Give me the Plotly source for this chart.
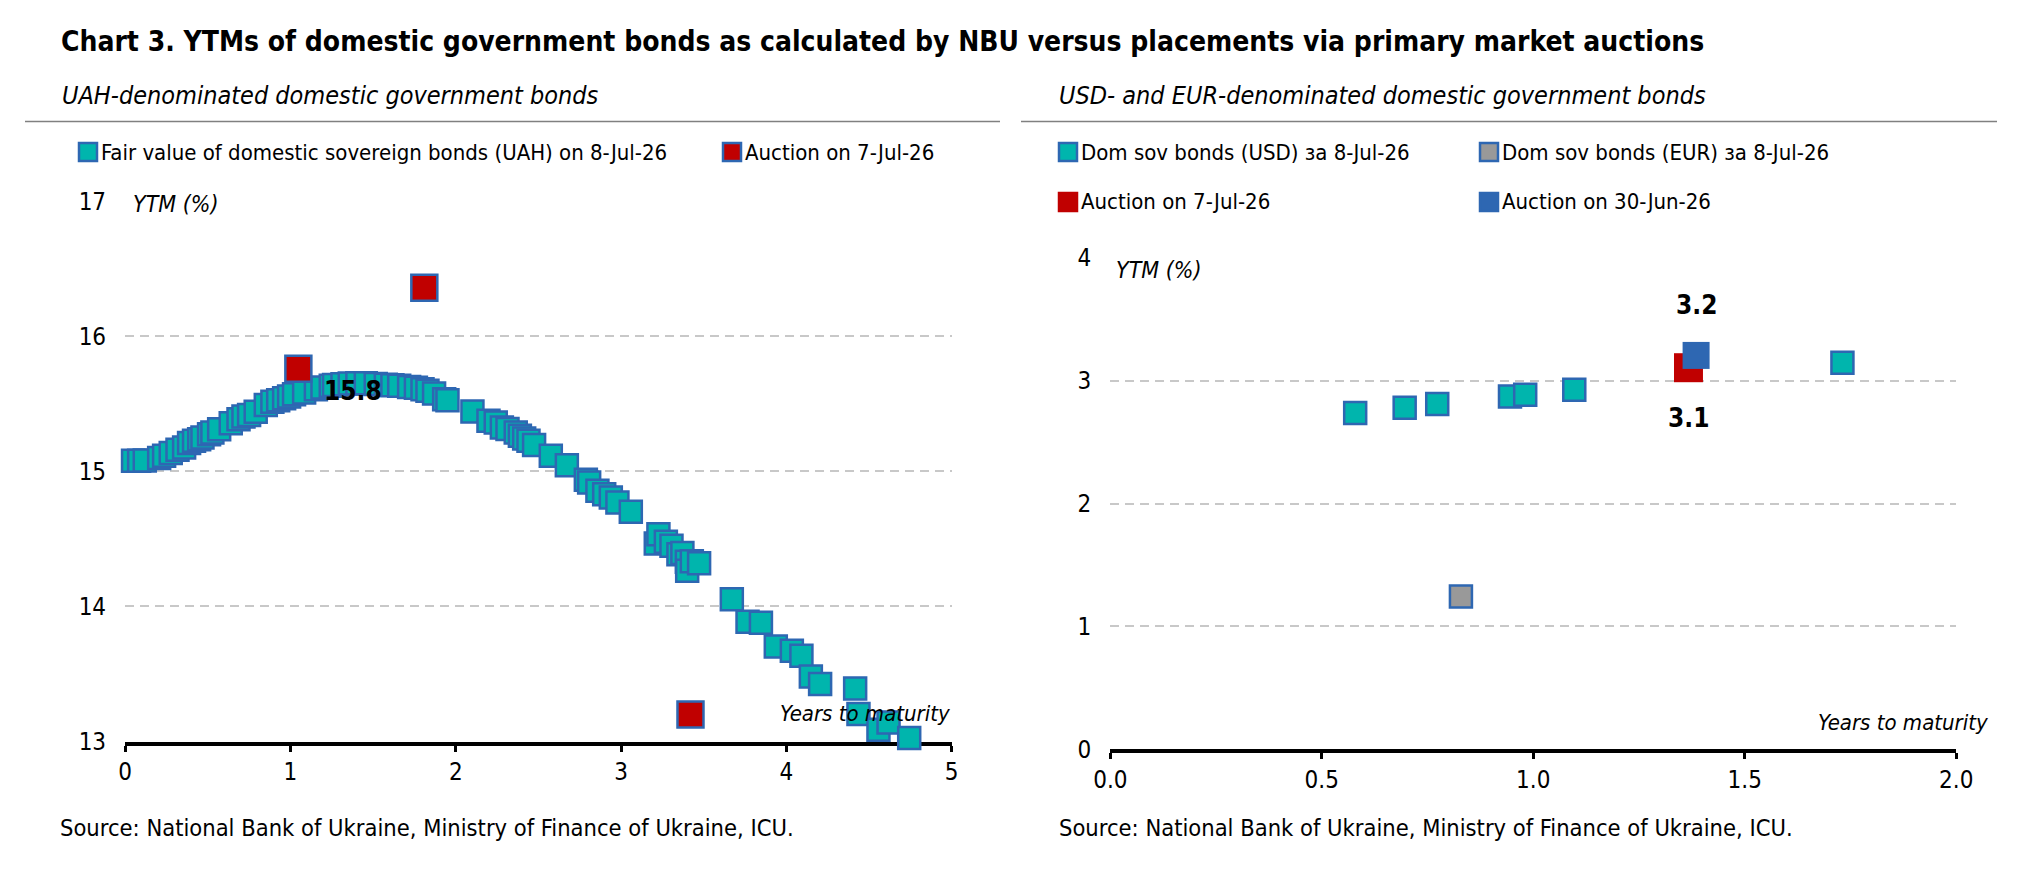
import plotly.graph_objects as go

W, H = 2022, 870

# ---------------- text ----------------
TITLE = "Chart 3. YTMs of domestic government bonds as calculated by NBU versus placements via primary market auctions"
SUB_LEFT = "UAH-denominated domestic government bonds"
SUB_RIGHT = "USD- and EUR-denominated domestic government bonds"
SOURCE = "Source: National Bank of Ukraine, Ministry of Finance of Ukraine, ICU."
Y_LABEL = "YTM (%)"
X_LABEL = "Years to maturity"

# ---------------- data: UAH panel ----------------
uah_fair_name = "Fair value of domestic sovereign bonds (UAH) on 8-Jul-26"
uah_fair_x = [0.048, 0.085, 0.119, 0.206, 0.236, 0.276, 0.317, 0.357, 0.387, 0.417,
              0.448, 0.468, 0.508, 0.528, 0.569, 0.639, 0.686, 0.716, 0.750, 0.790,
              0.851, 0.891, 0.926, 0.962, 0.992, 1.022, 1.083, 1.154, 1.194, 1.244,
              1.264, 1.315, 1.359, 1.405, 1.456, 1.516, 1.577, 1.617, 1.658, 1.718,
              1.759, 1.799, 1.829, 1.869, 1.930, 1.950, 2.101, 2.198, 2.242, 2.279,
              2.313, 2.363, 2.388, 2.414, 2.440, 2.474, 2.575, 2.672, 2.787, 2.807,
              2.857, 2.898, 2.938, 2.978, 3.059, 3.210, 3.226, 3.271, 3.305, 3.347,
              3.371, 3.398, 3.400, 3.428, 3.472, 3.670, 3.765, 3.846, 3.936, 4.033,
              4.091, 4.148, 4.204, 4.416, 4.436, 4.557, 4.618, 4.743]
uah_fair_y = [15.078, 15.078, 15.080, 15.098, 15.115, 15.135, 15.160, 15.177, 15.209, 15.226,
              15.238, 15.251, 15.275, 15.288, 15.312, 15.357, 15.386, 15.406, 15.418, 15.441,
              15.492, 15.515, 15.527, 15.542, 15.554, 15.571, 15.584, 15.608, 15.621, 15.633,
              15.640, 15.645, 15.650, 15.652, 15.652, 15.647, 15.642, 15.637, 15.633, 15.625,
              15.618, 15.608, 15.596, 15.576, 15.534, 15.527, 15.443, 15.374, 15.362, 15.325,
              15.313, 15.288, 15.263, 15.243, 15.226, 15.196, 15.115, 15.046, 14.937, 14.918,
              14.856, 14.831, 14.807, 14.770, 14.700, 14.466, 14.535, 14.478, 14.450, 14.387,
              14.395, 14.330, 14.264, 14.335, 14.320, 14.054, 13.886, 13.880, 13.704, 13.671,
              13.635, 13.482, 13.425, 13.393, 13.203, 13.087, 13.141, 13.025]

uah_auction_name = "Auction on 7-Jul-26"
uah_auction_x = [1.048, 1.810, 3.420]
uah_auction_y = [15.76, 16.36, 13.20]
uah_labelled_point = 0

# ---------------- data: FX panel ----------------
fx_usd_name = "Dom sov bonds (USD) за 8-Jul-26"
fx_usd_x = [0.579, 0.696, 0.773, 0.945, 0.981, 1.097, 1.731]
fx_usd_y = [2.737, 2.780, 2.810, 2.872, 2.886, 2.927, 3.147]

fx_eur_name = "Dom sov bonds (EUR) за 8-Jul-26"
fx_eur_x = [0.829]
fx_eur_y = [1.244]

fx_auc_jul_name = "Auction on 7-Jul-26"
fx_auc_jul_x = [1.367]
fx_auc_jul_y = [3.106]

fx_auc_jun_name = "Auction on 30-Jun-26"
fx_auc_jun_x = [1.385]
fx_auc_jun_y = [3.206]

left_x_ticks = [0, 1, 2, 3, 4, 5]
left_y_ticks = [13, 14, 15, 16, 17]
right_x_ticks = [0.0, 0.5, 1.0, 1.5, 2.0]
right_y_ticks = [0, 1, 2, 3, 4]

# ---------------- style ----------------
FONT = "Liberation Sans Narrow, Arial Narrow, DejaVu Sans Condensed, sans-serif"
TEAL = "#00B5AD"
BLUE = "#2E67B2"
RED = "#C00000"
GREY = "#999999"
GRID = "#C8C8C8"


def px(x):
    return x / W


def py(y):
    return 1 - y / H


fig = go.Figure()

# UAH panel traces
fig.add_trace(go.Scatter(
    x=uah_fair_x, y=uah_fair_y, mode="markers", name=uah_fair_name,
    marker=dict(symbol="square", size=22, color=TEAL, line=dict(color=BLUE, width=2.5)),
    xaxis="x", yaxis="y", cliponaxis=False, showlegend=False))
fig.add_trace(go.Scatter(
    x=uah_auction_x, y=uah_auction_y, mode="markers", name=uah_auction_name,
    marker=dict(symbol="square", size=26, color=RED, line=dict(color=BLUE, width=2.5)),
    xaxis="x", yaxis="y", cliponaxis=False, showlegend=False))

# FX panel traces
fig.add_trace(go.Scatter(
    x=fx_usd_x, y=fx_usd_y, mode="markers", name=fx_usd_name,
    marker=dict(symbol="square", size=22, color=TEAL, line=dict(color=BLUE, width=2.5)),
    xaxis="x2", yaxis="y2", cliponaxis=False, showlegend=False))
fig.add_trace(go.Scatter(
    x=fx_eur_x, y=fx_eur_y, mode="markers", name=fx_eur_name,
    marker=dict(symbol="square", size=22, color=GREY, line=dict(color=BLUE, width=2.5)),
    xaxis="x2", yaxis="y2", cliponaxis=False, showlegend=False))
fig.add_trace(go.Scatter(
    x=fx_auc_jul_x, y=fx_auc_jul_y, mode="markers", name=fx_auc_jul_name,
    marker=dict(symbol="square", size=29, color=RED, line=dict(width=0)),
    xaxis="x2", yaxis="y2", cliponaxis=False, showlegend=False))
fig.add_trace(go.Scatter(
    x=fx_auc_jun_x, y=fx_auc_jun_y, mode="markers", name=fx_auc_jun_name,
    marker=dict(symbol="square", size=27, color=BLUE, line=dict(width=0)),
    xaxis="x2", yaxis="y2", cliponaxis=False, showlegend=False))

tickfont = dict(family=FONT, size=24, color="#000000")

xcommon = dict(showgrid=False, zeroline=False, showline=True, linecolor="#000000", linewidth=4,
               ticks="outside", ticklen=6, tickwidth=3, tickcolor="#000000",
               tickfont=tickfont, layer="below traces", fixedrange=True,
               ticklabelstandoff=0, automargin=False)
ycommon = dict(showgrid=True, gridcolor=GRID, gridwidth=2, griddash="9px,6px", zeroline=False,
               showline=False, ticks="", tickfont=tickfont, layer="below traces",
               fixedrange=True, ticklabelstandoff=18, automargin=False)

fig.update_layout(
    width=W, height=H, margin=dict(l=0, r=0, t=0, b=0, autoexpand=False),
    paper_bgcolor="#FFFFFF", plot_bgcolor="#FFFFFF",
    font=dict(family=FONT, color="#000000"),
    xaxis=dict(domain=[px(125.1), px(951.7)], range=[0, 5], tickvals=left_x_ticks,
               anchor="y", **xcommon),
    yaxis=dict(domain=[py(741.5), py(201.2)], range=[13, 17], tickvals=left_y_ticks,
               anchor="x", **ycommon),
    xaxis2=dict(domain=[px(1110.3), px(1956.2)], range=[0, 2], tickvals=right_x_ticks,
                tickformat=".1f", anchor="y2", **xcommon),
    yaxis2=dict(domain=[py(749.2), py(257.9)], range=[0, 4], tickvals=right_y_ticks,
                anchor="x2", **ycommon),
)

ann = []
shapes = []

# Title and subtitles
ann.append(dict(text=TITLE, x=px(59), y=py(41), xref="paper", yref="paper",
                xanchor="left", yanchor="middle", showarrow=False,
                font=dict(family=FONT, size=28, color="#000000", weight="bold")))
ann.append(dict(text="<i>" + SUB_LEFT + "</i>", x=px(60), y=py(95), xref="paper", yref="paper",
                xanchor="left", yanchor="middle", showarrow=False,
                font=dict(family=FONT, size=25, color="#000000")))
ann.append(dict(text="<i>" + SUB_RIGHT + "</i>", x=px(1057), y=py(95), xref="paper", yref="paper",
                xanchor="left", yanchor="middle", showarrow=False,
                font=dict(family=FONT, size=25, color="#000000")))
for x0, x1 in [(25, 1000), (1021, 1997)]:
    shapes.append(dict(type="line", xref="paper", yref="paper", x0=px(x0), x1=px(x1),
                       y0=py(121.5), y1=py(121.5), line=dict(color="#808080", width=1.5)))

# Sources
for x0 in [58, 1057]:
    ann.append(dict(text=SOURCE, x=px(x0), y=py(828), xref="paper", yref="paper",
                    xanchor="left", yanchor="middle", showarrow=False,
                    font=dict(family=FONT, size=23.5, color="#000000")))

# Manual legends
legend_items = [
    (uah_fair_name, TEAL, BLUE, 79, 152),
    (uah_auction_name, RED, BLUE, 723, 152),
    (fx_usd_name, TEAL, BLUE, 1059, 152),
    (fx_eur_name, GREY, BLUE, 1480, 152),
    (fx_auc_jul_name, RED, RED, 1059, 202),
    (fx_auc_jun_name, BLUE, BLUE, 1480, 202),
]
for name, fill, border, lx, ly in legend_items:
    s = 18
    shapes.append(dict(type="rect", xref="paper", yref="paper",
                       x0=px(lx), x1=px(lx + s), y0=py(ly - s / 2), y1=py(ly + s / 2),
                       fillcolor=fill, line=dict(color=border, width=2.5)))
    ann.append(dict(text=name, x=px(lx + s + 2), y=py(ly), xref="paper", yref="paper",
                    xanchor="left", yanchor="middle", showarrow=False,
                    font=dict(family=FONT, size=22, color="#000000")))

# Axis titles
ann.append(dict(text="<i>" + Y_LABEL + "</i>", x=0, y=17, xref="x", yref="y",
                xanchor="left", yanchor="middle", xshift=2, yshift=-3, showarrow=False,
                bgcolor="#FFFFFF", borderpad=5,
                font=dict(family=FONT, size=23, color="#000000")))
ann.append(dict(text="<i>" + Y_LABEL + "</i>", x=0, y=4, xref="x2", yref="y2",
                xanchor="left", yanchor="middle", xshift=0, yshift=-12, showarrow=False,
                bgcolor="#FFFFFF", borderpad=5,
                font=dict(family=FONT, size=23, color="#000000")))
ann.append(dict(text="<i>" + X_LABEL + "</i>", x=5, y=13, xref="x", yref="y",
                xanchor="right", yanchor="middle", xshift=0, yshift=28, showarrow=False,
                font=dict(family=FONT, size=22, color="#000000")))
ann.append(dict(text="<i>" + X_LABEL + "</i>", x=2, y=0, xref="x2", yref="y2",
                xanchor="right", yanchor="middle", xshift=34, yshift=27, showarrow=False,
                font=dict(family=FONT, size=22, color="#000000")))

# Data labels
lbl_font = dict(family=FONT, size=26, color="#000000", weight="bold")
i = uah_labelled_point
ann.append(dict(text=f"{uah_auction_y[i]:.1f}", x=uah_auction_x[i], y=uah_auction_y[i],
                xref="x", yref="y", xanchor="left", yanchor="middle",
                xshift=24, yshift=-22, showarrow=False, font=lbl_font))
ann.append(dict(text=f"{fx_auc_jun_y[0]:.1f}", x=fx_auc_jun_x[0], y=fx_auc_jun_y[0],
                xref="x2", yref="y2", xanchor="center", yanchor="middle",
                xshift=0, yshift=50, showarrow=False, font=lbl_font))
ann.append(dict(text=f"{fx_auc_jul_y[0]:.1f}", x=fx_auc_jul_x[0], y=fx_auc_jul_y[0],
                xref="x2", yref="y2", xanchor="center", yanchor="middle",
                xshift=0, yshift=-50, showarrow=False, font=lbl_font))

fig.update_layout(annotations=ann, shapes=shapes)

fig.write_html("out.html")
